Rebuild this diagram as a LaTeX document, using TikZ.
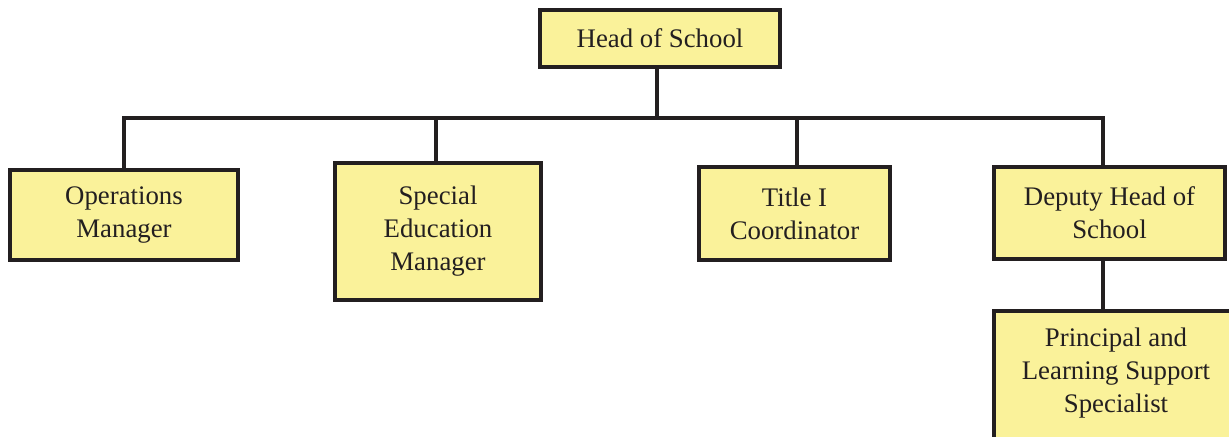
\documentclass[tikz,border=0pt]{standalone}
\usepackage{fontspec}
\setmainfont{Liberation Serif}
\definecolor{boxfill}{HTML}{FAF29A}
\definecolor{ink}{HTML}{231F20}
\begin{document}
\begin{tikzpicture}[x=0.5pt,y=-0.5pt,
  orgbox/.style={draw=ink,fill=boxfill,line width=2pt,align=center,inner sep=0pt,
    font=\fontsize{13.4}{16.5}\selectfont,text=ink},
  conn/.style={draw=ink,line width=1.8pt}]
\useasboundingbox (0,0) rectangle (1229,437);
\node[orgbox,minimum width=120pt,minimum height=28.5pt] (head) at (660,38.5) {Head of School};
\node[orgbox,minimum width=114pt,minimum height=45pt] (ops) at (124,215) {Operations\\Manager};
\node[orgbox,minimum width=103pt,minimum height=68.5pt] (sped) at (438,231.5) {Special\\Education\\Manager};
\node[orgbox,minimum width=95.5pt,minimum height=46.5pt] (title) at (794.5,213.5) {Title I\\Coordinator};
\node[orgbox,minimum width=115.5pt,minimum height=46pt] (dep) at (1109.5,213) {Deputy Head of\\School};
\node[orgbox,minimum width=123pt,minimum height=69pt] (prin) at (1117,380.5) {};
\node[align=center,font=\fontsize{13.4}{16.5}\selectfont,text=ink,inner sep=0pt] (printxt) at (1116,373) {Principal and\\Learning Support\\Specialist};
\coordinate (bar) at (0,118);
\coordinate (hs) at (657,0);
\coordinate (ds) at (1103,0);
\coordinate (ts) at (797,0);
\coordinate (ss) at (436,0);
\draw[conn] (head.south -| hs) -- (hs |- bar);
\draw[conn] (ops.north) -- (ops.north |- bar) -- (ds |- bar) -- (dep.north -| ds);
\draw[conn] (sped.north -| ss) -- (ss |- bar);
\draw[conn] (title.north -| ts) -- (ts |- bar);
\draw[conn] (dep.south -| ds) -- (prin.north -| ds);
\end{tikzpicture}
\end{document}
